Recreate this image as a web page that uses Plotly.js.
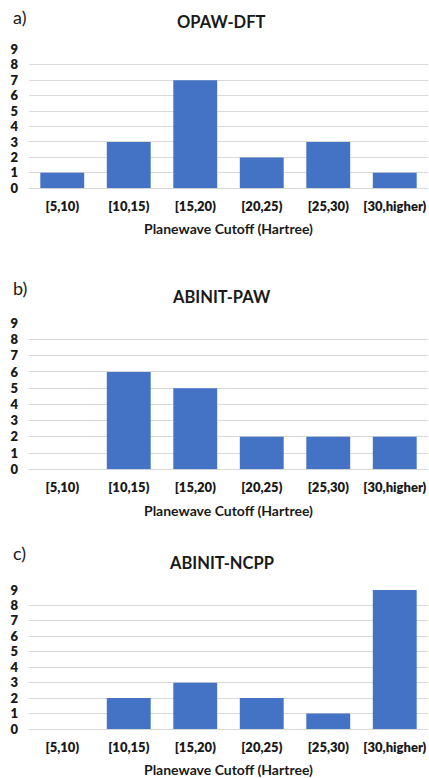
<!DOCTYPE html>
<html>
<head>
<meta charset="utf-8">
<script src="https://cdn.plot.ly/plotly-3.0.1.min.js"></script>
<style>
html,body{margin:0;padding:0;background:#fff;}
#chart{width:429px;height:778px;}
</style>
</head>
<body>
<div id="chart"></div>
<script>
const categories = ["[5,10)", "[10,15)", "[15,20)", "[20,25)", "[25,30)", "[30,higher)"];
const opawDft = [1, 3, 7, 2, 3, 1];
const abinitPaw = [0, 6, 5, 2, 2, 2];
const abinitNcpp = [0, 2, 3, 2, 1, 9];
const panelTitles = ["OPAW-DFT", "ABINIT-PAW", "ABINIT-NCPP"];
const panelLetters = ["a)", "b)", "c)"];
const xTitle = "Planewave Cutoff (Hartree)";
const yTicks = [0, 1, 2, 3, 4, 5, 6, 7, 8, 9];

const H = 778;
const FONT = "Lato, 'Open Sans', sans-serif";
const TXT = "#1a1a1a";
const BAR = "#4472C4";

const panels = [
  {top: 49.3, bottom: 188.3, titleY: 22, letterY: 17, xtitleY: 228},
  {top: 323.3, bottom: 469.3, titleY: 297, letterY: 288, xtitleY: 510},
  {top: 590, bottom: 729, titleY: 563, letterY: 553, xtitleY: 769}
];
const series = [opawDft, abinitPaw, abinitNcpp];

const data = [];
const layout = {
  width: 429, height: 778,
  margin: {l: 0, r: 0, t: 0, b: 0},
  paper_bgcolor: "#ffffff",
  plot_bgcolor: "#ffffff",
  showlegend: false,
  bargap: 0.34,
  font: {family: FONT, color: TXT},
  annotations: []
};
const px = y => 1 - y / H;

series.forEach((vals, i) => {
  const n = i + 1;
  const xa = n === 1 ? "x" : "x" + n;
  const ya = n === 1 ? "y" : "y" + n;
  data.push({
    type: "bar",
    x: categories,
    y: vals,
    xaxis: xa, yaxis: ya,
    marker: {color: BAR, line: {width: 0}},
    hoverinfo: "x+y"
  });
  const p = panels[i];
  layout["xaxis" + (n === 1 ? "" : n)] = {
    domain: [29 / 429, 428 / 429],
    anchor: ya,
    type: "category",
    showgrid: false,
    showline: false,
    zeroline: false,
    ticks: "",
    ticklabelstandoff: 9,
    tickfont: {family: FONT, size: 13, color: TXT, weight: 800},
    fixedrange: true
  };
  layout["yaxis" + (n === 1 ? "" : n)] = {
    domain: [px(p.bottom), px(p.top)],
    anchor: xa,
    range: [0, 9],
    tickmode: "array",
    tickvals: yTicks,
    ticktext: yTicks.map(String),
    showgrid: true,
    gridcolor: "#d9d9d9",
    gridwidth: 1,
    zeroline: true,
    zerolinecolor: "#d9d9d9",
    zerolinewidth: 1,
    showline: false,
    ticks: "",
    ticklabelstandoff: 10,
    tickfont: {family: FONT, size: 13, color: TXT, weight: 800},
    fixedrange: true
  };
  layout.annotations.push({
    text: "<b>" + panelTitles[i] + "</b>",
    xref: "paper", yref: "paper",
    x: 221 / 429, y: px(p.titleY),
    xanchor: "center", yanchor: "middle",
    showarrow: false,
    font: {family: FONT, size: 16.5, color: TXT}
  });
  layout.annotations.push({
    text: panelLetters[i],
    xref: "paper", yref: "paper",
    x: 11 / 429, y: px(p.letterY),
    xanchor: "left", yanchor: "middle",
    showarrow: false,
    font: {family: FONT, size: 18, color: TXT}
  });
  layout.annotations.push({
    text: "<b>" + xTitle + "</b>",
    xref: "paper", yref: "paper",
    x: 228 / 429, y: px(p.xtitleY),
    xanchor: "center", yanchor: "middle",
    showarrow: false,
    font: {family: FONT, size: 14, color: TXT}
  });
});

Plotly.newPlot("chart", data, layout, {displayModeBar: false, staticPlot: true});
</script>
</body>
</html>
